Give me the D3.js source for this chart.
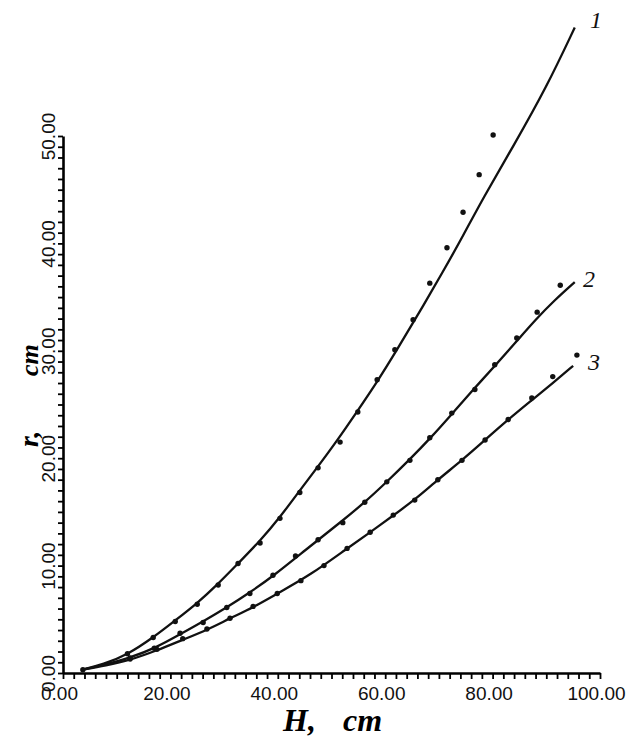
<!DOCTYPE html>
<html>
<head>
<meta charset="utf-8">
<script src="https://cdn.jsdelivr.net/npm/d3@7"></script>
<style>
  body { margin: 0; background: #fff; }
  svg { display: block; }
</style>
</head>
<body>
<div id="svg_wrapper"></div>
<script>
// fitted curves (H, r)
const curve1Line = [[3.5,0.3],[7.5,0.8],[12,1.7],[16.8,3.3],[20.9,4.9],[25,6.5],[28.7,8.2],[32.6,10.2],[36.7,12.3],[40.4,14.5],[44.1,17.0],[47.3,19.1],[51,21.6],[54.7,24.3],[58.5,27.1],[62.2,30.1],[66.5,33.7],[70.8,37.4],[74.5,40.7],[78.2,44.2],[83.8,49.0],[90.1,54.6],[95.3,60.1]];
const curve2Line = [[3.5,0.3],[6.3,0.6],[12.5,1.4],[17.5,2.4],[21.8,3.6],[26.1,4.8],[30.5,6.1],[34.8,7.5],[39.1,9.0],[46,11.8],[52.1,14.2],[56.2,15.9],[60.3,17.8],[64.6,19.9],[68.3,21.8],[72.4,24.1],[76.4,26.4],[80.8,28.8],[84.5,30.9],[88,32.9],[91.5,34.7],[95.3,36.4]];
const curve3Line = [[3.5,0.3],[8,0.7],[12.5,1.2],[17.5,2.1],[22.3,3.1],[26.8,4.0],[31.1,5.1],[35.4,6.1],[39.9,7.4],[46,9.1],[52.9,11.6],[57.2,13.1],[61.6,14.7],[65.7,16.2],[69.8,18.0],[74.3,19.8],[78.6,21.7],[82.9,23.6],[87.3,25.4],[91.2,27.0],[95.0,28.6]];

// measured points
const curve1Points = [[3.7,0.3],[12,1.8],[16.8,3.3],[20.9,4.8],[25,6.4],[28.9,8.2],[32.6,10.2],[36.7,12.1],[40.4,14.4],[44.1,16.8],[47.5,19.1],[51.6,21.5],[54.9,24.3],[58.5,27.3],[61.8,30.1],[65.2,32.9],[68.3,36.3],[71.5,39.6],[74.5,42.9],[77.5,46.4],[80.1,50.1]];
const curve2Points = [[12.5,1.4],[17,2.3],[21.8,3.7],[26.1,4.7],[30.5,6.1],[34.8,7.4],[39.1,9.1],[43.3,10.9],[47.5,12.4],[52.1,14.0],[56.2,15.9],[60.3,17.8],[64.6,19.8],[68.3,21.9],[72.4,24.2],[76.7,26.4],[80.4,28.7],[84.5,31.2],[88.3,33.6],[92.6,36.1]];
const curve3Points = [[12.5,1.3],[17.5,2.2],[22.3,3.2],[26.8,4.1],[31.1,5.1],[35.4,6.2],[39.9,7.4],[44.3,8.6],[48.6,10.0],[52.9,11.6],[57.2,13.1],[61.5,14.7],[65.5,16.1],[69.8,18.0],[74.3,19.8],[78.6,21.7],[82.9,23.6],[87.3,25.6],[91.2,27.6],[95.7,29.6]];

const curveNames = ['1', '2', '3'];
const xMajor = [0, 20, 40, 60, 80, 100];
const yMajor = [0, 10, 20, 30, 40, 50];

const width = 631, height = 738;

const svg = d3.select('#svg_wrapper')
.append('svg')
.attr('width', width)
.attr('height', height);

const x = d3.scaleLinear().domain([0, 100]).range([63, 600]);
const y = d3.scaleLinear().domain([0, 50]).range([673, 136]);

// minor ticks
svg.append('g')
.attr('transform', 'translate(0,' + y(0) + ')')
.call(d3.axisBottom(x).tickValues(d3.range(0, 101, 2)).tickSize(6).tickSizeOuter(0).tickFormat(''))
.call(g => g.select('.domain').attr('stroke-width', 2.6))
.call(g => g.selectAll('.tick line').attr('stroke-width', 1.8));

svg.append('g')
.attr('transform', 'translate(' + x(0) + ',0)')
.call(d3.axisLeft(y).tickValues(d3.range(0, 51, 1)).tickSize(5).tickSizeOuter(0).tickFormat(''))
.call(g => g.select('.domain').attr('stroke-width', 2.6))
.call(g => g.selectAll('.tick line').attr('stroke-width', 1.8));

// labels
svg.append('g')
.attr('transform', 'translate(0,' + y(0) + ')')
.call(d3.axisBottom(x).tickValues(xMajor).tickSize(0).tickPadding(14).tickFormat(d3.format('.2f')))
.call(g => g.select('.domain').remove())
.call(g => g.selectAll('text')
    .attr('x', -4)
    .attr('font-family', 'Liberation Sans')
    .attr('font-size', 19)
    .attr('fill', '#111'));

svg.append('g')
.attr('transform', 'translate(' + x(0) + ',0)')
.call(d3.axisLeft(y).tickValues(yMajor).tickSize(0).tickFormat(d3.format('.2f')))
.call(g => g.select('.domain').remove())
.call(g => g.selectAll('text')
    .attr('x', 0)
    .attr('dy', 0)
    .attr('transform', 'translate(-8,0) rotate(-90)')
    .attr('text-anchor', 'middle')
    .attr('font-family', 'Liberation Sans')
    .attr('font-size', 19)
    .attr('fill', '#111'));

// axis titles
const titleFont = 'Liberation Serif';
svg.append('text').attr('x', 283).attr('y', 731)
.attr('font-family', titleFont).attr('font-style', 'italic').attr('font-weight', 'bold')
.attr('font-size', 32).text('H,');
svg.append('text').attr('x', 343).attr('y', 731)
.attr('font-family', titleFont).attr('font-style', 'italic').attr('font-weight', 'bold')
.attr('font-size', 32).text('cm');

svg.append('text').attr('transform', 'translate(38,447) rotate(-90)')
.attr('font-family', titleFont).attr('font-style', 'italic').attr('font-weight', 'bold')
.attr('font-size', 28).text('r,');
svg.append('text').attr('transform', 'translate(38,376) rotate(-90)')
.attr('font-family', titleFont).attr('font-style', 'italic').attr('font-weight', 'bold')
.attr('font-size', 26).text('cm');

// curves
const line = d3.line()
.x(d => x(d[0]))
.y(d => y(d[1]))
.curve(d3.curveBasis);

[curve1Line, curve2Line, curve3Line].forEach(c => {
    svg.append('path')
    .datum(c)
    .attr('d', line)
    .attr('fill', 'none')
    .attr('stroke', '#111')
    .attr('stroke-width', 2.3);
});

[curve1Points, curve2Points, curve3Points].forEach(p => {
    svg.append('g')
    .selectAll('circle')
    .data(p)
    .enter()
    .append('circle')
    .attr('cx', d => x(d[0]))
    .attr('cy', d => y(d[1]))
    .attr('r', 2.7)
    .attr('fill', '#111');
});

// curve numbers
const labelPos = [[590, 28], [583, 287], [588, 370]];
curveNames.forEach((n, i) => {
    svg.append('text')
    .attr('x', labelPos[i][0])
    .attr('y', labelPos[i][1])
    .attr('font-family', titleFont)
    .attr('font-style', 'italic')
    .attr('font-size', 24)
    .attr('fill', '#111')
    .text(n);
});
</script>
</body>
</html>
